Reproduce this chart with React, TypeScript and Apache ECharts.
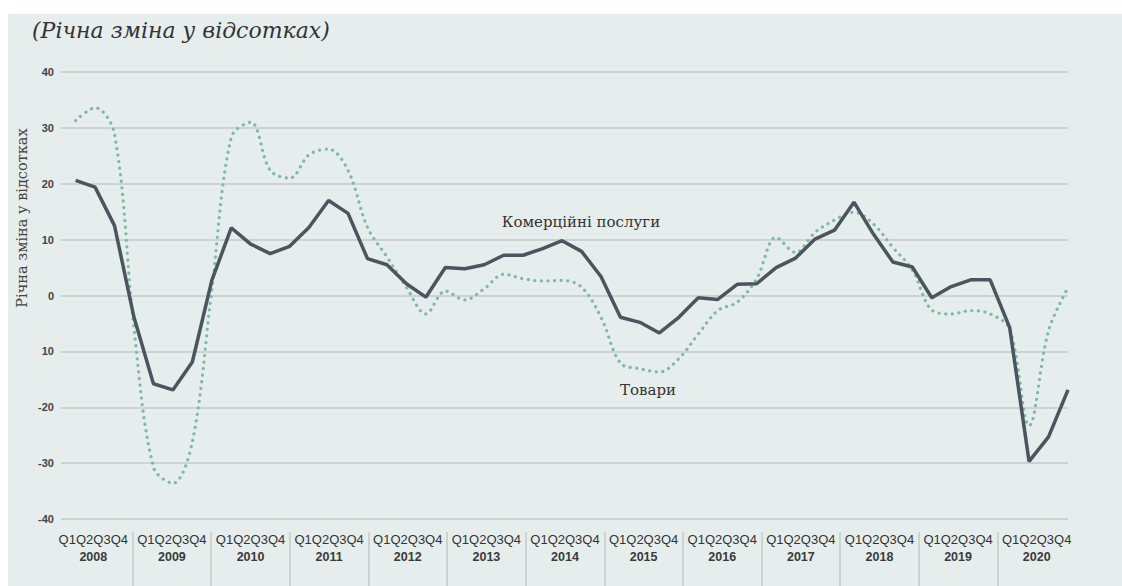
import React, { useEffect, useRef } from "react";
import * as echarts from "echarts";

const years = ["2008", "2009", "2010", "2011", "2012", "2013", "2014", "2015", "2016", "2017", "2018", "2019", "2020"];
const quarterLabel = "Q1Q2Q3Q4";
const yTickLabels = ["-40", "-30", "-20", "10", "0", "10", "20", "30", "40"];

const servicesName = "Комерційні послуги";
const goodsName = "Товари";

const services = [
  20.6, 19.4, 12.5, -3.9,
  -15.8, -16.9, -11.9, 2.7,
  12.1, 9.2, 7.5, 8.8,
  12.2, 17.0, 14.7, 6.6,
  5.5, 2.1, -0.3, 5.0,
  4.8, 5.5, 7.2, 7.2,
  8.4, 9.8, 7.9, 3.4,
  -3.9, -4.8, -6.7, -3.9,
  -0.4, -0.7, 2.0, 2.1,
  5.0, 6.7, 10.1, 11.7,
  16.7, 11.0, 6.0, 5.1,
  -0.4, 1.6, 2.8, 2.8,
  -5.7, -29.7, -25.3, -16.9,
];

const goods = [
  31.3, 33.6, 28.9, -5.9,
  -30.7, -33.6, -26.2, 1.0,
  28.3, 31.0, 22.4, 21.0,
  25.2, 26.2, 22.4, 12.2,
  6.9, 1.5, -3.3, 0.8,
  -0.8, 1.2, 3.8, 3.0,
  2.6, 2.7, 1.5, -3.9,
  -12.1, -13.1, -13.7, -11.3,
  -6.9, -2.7, -1.2, 3.0,
  10.4, 7.7, 11.3, 13.5,
  14.9, 12.8, 8.6, 4.6,
  -2.6, -3.3, -2.7, -3.3,
  -6.0, -23.3, -6.3, 1.4,
];

const GRID_COLOR = "#c5caca";
const BG = "#e6eded";

export default function App() {
  const ref = useRef<HTMLDivElement>(null);
  useEffect(() => {
    if (!ref.current) return;
    const chart = echarts.init(ref.current, null, { renderer: "svg" });
    const toXY = (arr: number[]) => arr.map((v, i) => [i, v]);
    chart.setOption({
      animation: false,
      backgroundColor: BG,
      grid: [
        { left: 53, right: 54, top: 58, bottom: 67 },
        { left: 46, width: 1022, top: 518, height: 54 },
      ],
      xAxis: [
        {
          type: "value",
          gridIndex: 0,
          min: -0.75,
          max: years.length * 4 - 1,
          show: false,
        },
        {
          type: "category",
          gridIndex: 1,
          data: years,
          position: "top",
          boundaryGap: true,
          axisLine: { show: false },
          axisTick: { show: false },
          splitLine: {
            show: true,
            showMinLine: false,
            showMaxLine: false,
            lineStyle: { color: GRID_COLOR, width: 1.5 },
          },
          axisLabel: {
            inside: true,
            margin: -2,
            interval: 0,
            formatter: (v: string) => `{q|${quarterLabel}}\n{y|${v}}`,
            rich: {
              q: { fontFamily: "Liberation Sans", fontSize: 13, color: "#333", lineHeight: 18 },
              y: { fontFamily: "Liberation Sans", fontSize: 12.5, fontWeight: "bold", color: "#3a3a3a", lineHeight: 18 },
            },
          },
        },
      ],
      yAxis: [
        {
          type: "value",
          gridIndex: 0,
          min: -40,
          max: 40,
          interval: 10,
          axisLine: { show: false },
          axisTick: { show: false },
          splitLine: { lineStyle: { color: GRID_COLOR, width: 1.5 } },
          axisLabel: {
            margin: 7,
            fontFamily: "Liberation Sans",
            fontSize: 11,
            fontWeight: "bold",
            color: "#444",
            formatter: (v: number) => yTickLabels[Math.round((v + 40) / 10)] ?? String(v),
          },
        },
        { type: "value", gridIndex: 1, show: false },
      ],
      series: [
        {
          name: goodsName,
          type: "line",
          xAxisIndex: 0,
          yAxisIndex: 0,
          data: toXY(goods),
          symbol: "none",
          smooth: 0.35,
          lineStyle: { color: "#7fb8a9", width: 3.2, type: [0.1, 6.5], cap: "round" },
          z: 2,
        },
        {
          name: servicesName,
          type: "line",
          xAxisIndex: 0,
          yAxisIndex: 0,
          data: toXY(services),
          symbol: "none",
          lineStyle: { color: "#4a5560", width: 3.5 },
          z: 3,
        },
      ],
      graphic: [
        {
          type: "text",
          left: 24,
          top: 5,
          style: {
            text: "(Річна зміна у відсотках)",
            font: "italic 22px 'DejaVu Serif'",
            fill: "#333",
          },
        },
        {
          type: "text",
          x: 14,
          y: 204,
          rotation: Math.PI / 2,
          style: {
            text: "Річна зміна у відсотках",
            font: "14.5px 'DejaVu Serif'",
            fill: "#444",
            align: "center",
            verticalAlign: "middle",
          },
        },
        {
          type: "text",
          x: 573,
          y: 208,
          style: {
            text: servicesName,
            font: "15px 'DejaVu Serif'",
            fill: "#333",
            align: "center",
            verticalAlign: "middle",
          },
        },
        {
          type: "text",
          x: 640,
          y: 376,
          style: {
            text: goodsName,
            font: "15px 'DejaVu Serif'",
            fill: "#333",
            align: "center",
            verticalAlign: "middle",
          },
        },
      ],
    });
    return () => chart.dispose();
  }, []);
  return (
    <div
      ref={ref}
      style={{ position: "absolute", left: 8, top: 14, width: 1114, height: 572 }}
    />
  );
}
